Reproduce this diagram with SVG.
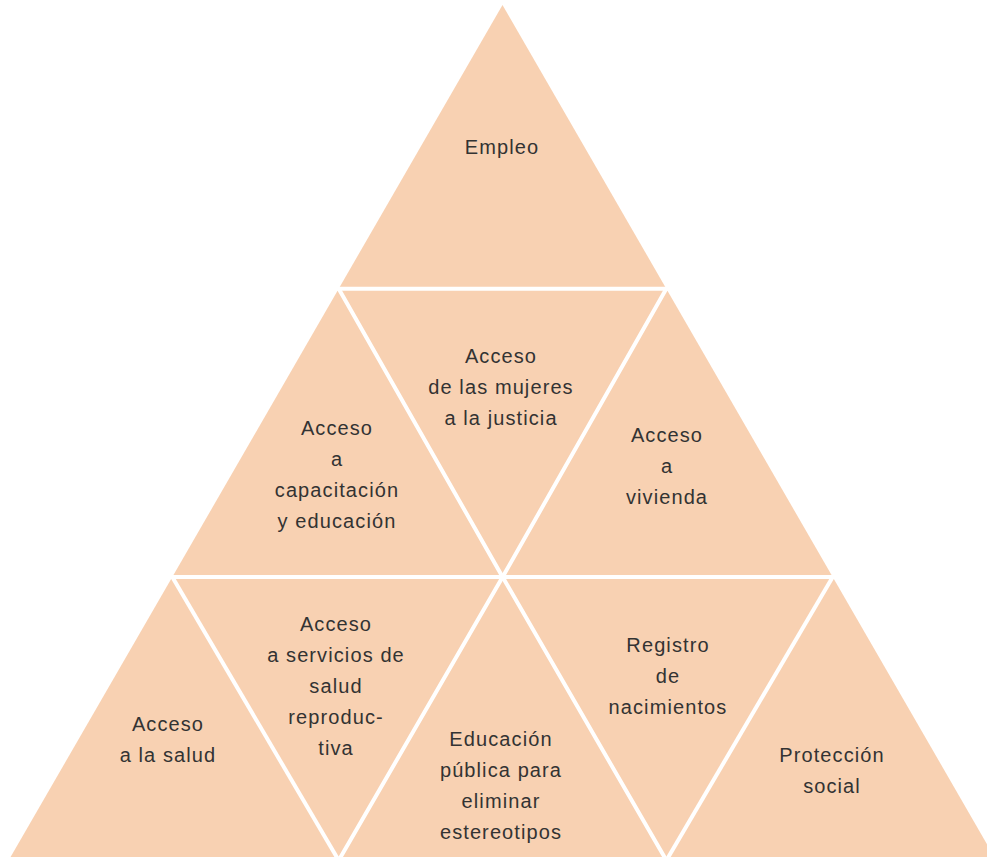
<svg xmlns="http://www.w3.org/2000/svg" width="987" height="857" viewBox="0 0 987 857">
<style>
.tri{fill:#F8D1B2;stroke:none}
.sep{stroke:#FFFFFF;stroke-width:4;fill:none;stroke-linecap:butt}
text{font-family:"Liberation Sans",Arial,sans-serif;font-size:20px;fill:#333333;text-anchor:middle;letter-spacing:1.1px}
</style>
<rect width="987" height="857" fill="#FFFFFF"/>
<g id="n-empleo"><polygon class="tri" points="502.5,5 338.7,288.7 666.3,288.7"/><text x="502" y="154">Empleo</text></g>
<g id="n-capacitacion"><polygon class="tri" points="338.7,288.7 172.3,577 502.6,577"/><text x="337" y="435">Acceso</text><text x="337" y="466">a</text><text x="337" y="497">capacitación</text><text x="337" y="528">y educación</text></g>
<g id="n-justicia"><polygon class="tri" points="338.7,288.7 666.3,288.7 502.6,577"/><text x="501" y="363">Acceso</text><text x="501" y="394">de las mujeres</text><text x="501" y="425">a la justicia</text></g>
<g id="n-vivienda"><polygon class="tri" points="666.3,288.7 502.6,577 832.7,577"/><text x="667" y="442">Acceso</text><text x="667" y="473">a</text><text x="667" y="504">vivienda</text></g>
<g id="n-salud"><polygon class="tri" points="172.3,577 8.6,860.4 338.7,860.4"/><text x="168" y="731">Acceso</text><text x="168" y="762">a la salud</text></g>
<g id="n-reproductiva"><polygon class="tri" points="172.3,577 502.6,577 338.7,860.4"/><text x="336" y="631">Acceso</text><text x="336" y="662">a servicios de</text><text x="336" y="693">salud</text><text x="336" y="724">reproduc-</text><text x="336" y="755">tiva</text></g>
<g id="n-educacion"><polygon class="tri" points="502.6,577 338.7,860.4 666.4,860.4"/><text x="501" y="746">Educación</text><text x="501" y="777">pública para</text><text x="501" y="808">eliminar</text><text x="501" y="839">estereotipos</text></g>
<g id="n-registro"><polygon class="tri" points="502.6,577 832.7,577 666.4,860.4"/><text x="668" y="652">Registro</text><text x="668" y="683">de</text><text x="668" y="714">nacimientos</text></g>
<g id="n-proteccion"><polygon class="tri" points="832.7,577 666.4,860.4 996.4,860.4"/><text x="832" y="762">Protección</text><text x="832" y="793">social</text></g>
<g id="connectors">
<line class="sep" x1="320" y1="288.7" x2="685" y2="288.7"/>
<line class="sep" x1="150" y1="577" x2="855" y2="577"/>
<polyline class="sep" points="338.7,288.7 502.6,577 666.4,860.4"/>
<polyline class="sep" points="666.3,288.7 502.6,577 338.7,860.4"/>
<line class="sep" x1="172.3" y1="577" x2="338.7" y2="860.4"/>
<line class="sep" x1="832.7" y1="577" x2="666.4" y2="860.4"/>
</g>
</svg>
